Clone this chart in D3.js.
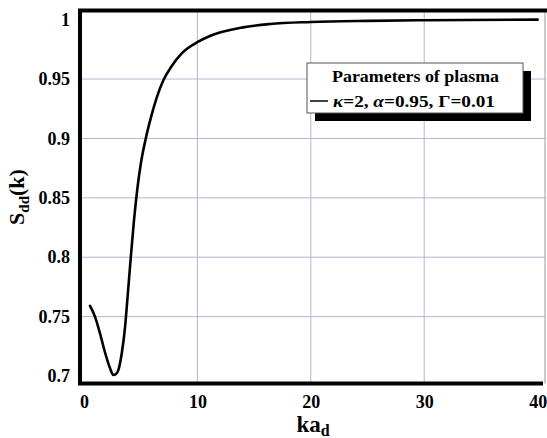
<!DOCTYPE html>
<html>
<head>
<meta charset="utf-8">
<script src="https://cdn.jsdelivr.net/npm/d3@7"></script>
<style>
  html, body { margin: 0; padding: 0; background: #fff; }
  svg { display: block; }
  text { font-family: "Liberation Serif", "Times New Roman", serif; font-weight: bold; fill: #000; }
</style>
</head>
<body>
<svg id="chart" width="547" height="438"></svg>
<script>
// ---- data ----
const kaValues = [0.53, 0.97, 1.41, 1.85, 2.30, 2.59, 2.82, 3.03, 3.33, 3.62, 3.84, 4.12, 4.40, 4.70, 5.00, 5.45, 5.90, 6.40, 7.00, 7.74, 8.62, 10.08, 11.1, 14.02, 16.4, 20, 25, 30, 40];
const sValues  = [0.759, 0.750, 0.736, 0.720, 0.7065, 0.7008, 0.7017, 0.705, 0.719, 0.741, 0.766, 0.799, 0.830, 0.857, 0.878, 0.900, 0.9175, 0.934, 0.949, 0.961, 0.9716, 0.9814, 0.9862, 0.9935, 0.9963, 0.998, 0.999, 0.9995, 1.0];
const xTicks = [0, 10, 20, 30, 40];
const yTicks = [0.7, 0.75, 0.8, 0.85, 0.9, 0.95, 1];
const legendTitle = "Parameters of plasma";

const svg = d3.select("#chart");
const pLeft = 80, pRight = 545, pTop = 10.5, pBottom = 383.5;

const x = d3.scaleLinear().domain([-0.35, 40.65]).range([pLeft, pRight]);
const y = d3.scaleLinear().domain([0.6937, 1.0077]).range([pBottom, pTop]);

// grid
const grid = svg.append("g");
grid.selectAll("line.v").data(xTicks.filter(d => d > 0 && d < 40)).enter().append("line")
  .attr("x1", d => x(d)).attr("x2", d => x(d)).attr("y1", pTop).attr("y2", pBottom)
  .attr("stroke", "#b4b4d4").attr("stroke-width", 1);
grid.selectAll("line.h").data(yTicks.filter(d => d > 0.7 && d < 1)).enter().append("line")
  .attr("x1", pLeft).attr("x2", pRight).attr("y1", d => y(d)).attr("y2", d => y(d))
  .attr("stroke", "#b4b4d4").attr("stroke-width", 1);

// right thin edge
svg.append("line").attr("x1", pRight).attr("x2", pRight).attr("y1", pTop).attr("y2", pBottom)
  .attr("stroke", "#999").attr("stroke-width", 1);

// axes via d3
const xAxis = d3.axisBottom(x).tickValues(xTicks).tickSize(0).tickPadding(12).tickFormat(d3.format("d"));
const gx = svg.append("g").attr("transform", `translate(0,${pBottom})`).call(xAxis);
gx.select(".domain").remove();
gx.selectAll("text").attr("font-size", 18).attr("font-family", "Liberation Serif").attr("font-weight", "bold").attr("fill", "#000");

const yAxis = d3.axisLeft(y).tickValues(yTicks).tickSize(0).tickPadding(10).tickFormat(d => d === 1 ? "1" : d3.format(".2~f")(d));
const gy = svg.append("g").attr("transform", `translate(${pLeft},0)`).call(yAxis);
gy.select(".domain").remove();
gy.selectAll("text").attr("font-size", 18).attr("font-family", "Liberation Serif").attr("font-weight", "bold").attr("fill", "#000");

// curve
const pts = kaValues.map((k, i) => [k, sValues[i]]);
const line = d3.line().x(d => x(d[0])).y(d => y(d[1])).curve(d3.curveMonotoneX);
svg.append("path").datum(pts).attr("d", line)
  .attr("fill", "none").attr("stroke", "#000").attr("stroke-width", 2.6).attr("stroke-linejoin", "round").attr("stroke-linecap", "round");

// frame (top, left, bottom thick)
svg.append("path")
  .attr("d", `M${pRight+2},${pTop} H${pLeft} V${pBottom} H${pRight-2}`)
  .attr("fill", "none").attr("stroke", "#000").attr("stroke-width", 4);

// legend
const lg = svg.append("g");
lg.append("rect").attr("x", 315).attr("y", 71).attr("width", 216).attr("height", 50).attr("fill", "#000");
lg.append("rect").attr("x", 307).attr("y", 63).attr("width", 216).attr("height", 50)
  .attr("fill", "#fff").attr("stroke", "#555").attr("stroke-width", 1);
lg.append("text").attr("x", 332).attr("y", 82).attr("font-size", 17)
  .attr("textLength", 167).attr("lengthAdjust", "spacingAndGlyphs").text(legendTitle);
lg.append("line").attr("x1", 310).attr("x2", 328).attr("y1", 101).attr("y2", 101).attr("stroke", "#000").attr("stroke-width", 1.5);
const lt = lg.append("text").attr("x", 333).attr("y", 107).attr("font-size", 17)
  .attr("textLength", 162).attr("lengthAdjust", "spacingAndGlyphs");
lt.append("tspan").attr("font-style", "italic").text("κ");
lt.append("tspan").text("=2, ");
lt.append("tspan").attr("font-style", "italic").text("α");
lt.append("tspan").text("=0.95, Γ=0.01");

// axis titles
const yl = svg.append("text").attr("transform", "translate(24,197) rotate(-90)").attr("text-anchor", "middle").attr("font-size", 22);
yl.append("tspan").text("S");
yl.append("tspan").attr("font-size", 15).attr("dy", 5).text("dd");
yl.append("tspan").attr("dy", -5).text("(k)");

const xl = svg.append("text").attr("x", 313).attr("y", 432).attr("text-anchor", "middle").attr("font-size", 23);
xl.append("tspan").text("ka");
xl.append("tspan").attr("font-size", 16).attr("dy", 4).text("d");
</script>
</body>
</html>
